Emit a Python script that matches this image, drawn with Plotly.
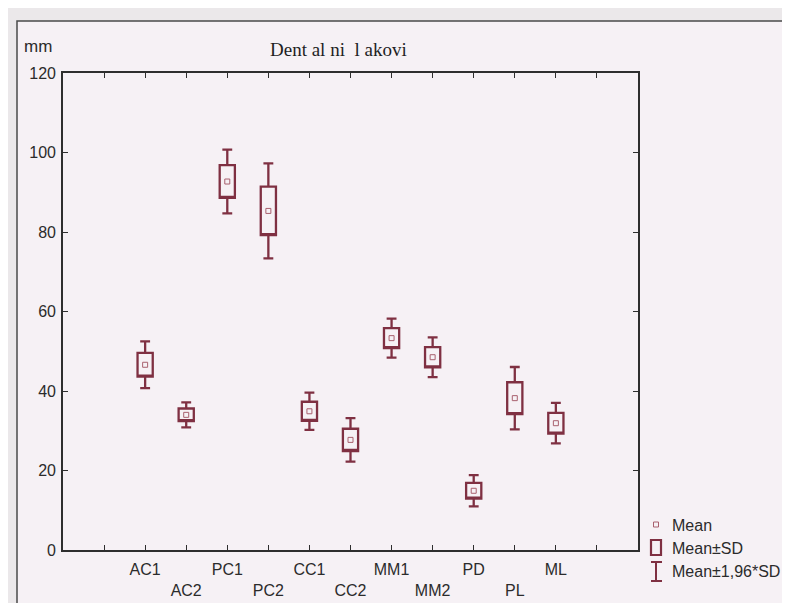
import plotly.graph_objects as go

# ---- data ----
categories = ["AC1", "AC2", "PC1", "PC2", "CC1", "CC2", "MM1", "MM2", "PD", "PL", "ML"]
means = [46.6, 34.0, 92.7, 85.3, 34.9, 27.7, 53.3, 48.5, 14.9, 38.2, 31.9]
sds = [3.0, 1.6, 4.1, 6.1, 2.4, 2.8, 2.5, 2.55, 2.0, 4.0, 2.6]
y_ticks = [0, 20, 40, 60, 80, 100, 120]
title_text = "Dent al ni  l akovi"
y_unit = "mm"
legend_labels = ["Mean", "Mean±SD", "Mean±1,96*SD"]

# ---- layout geometry ----
W, H = 790, 603
L, R, T, B = 55, 630, 65, 542   # plot area in pixels


def px(x):
    return (x - L) / (R - L)


def py(y):
    return (B - y) / (B - T)


positions = list(range(1, len(categories) + 1))
q1 = [m - s for m, s in zip(means, sds)]
q3 = [m + s for m, s in zip(means, sds)]
lo = [m - 1.96 * s for m, s in zip(means, sds)]
hi = [m + 1.96 * s for m, s in zip(means, sds)]

BOX_COLOR = "#7f3042"
MEAN_COLOR = "#a8606e"
TEXT = "#2b2b2b"
FONT = "Liberation Sans, Arial, sans-serif"

fig = go.Figure()
fig.add_trace(go.Box(
    x=positions, q1=q1, median=q1, q3=q3, lowerfence=lo, upperfence=hi,
    boxpoints=False, width=0.37, whiskerwidth=0.65,
    line=dict(color=BOX_COLOR, width=2.3),
    fillcolor="rgba(0,0,0,0)", showlegend=False, hoverinfo="skip",
))
fig.add_trace(go.Scatter(
    x=positions, y=means, mode="markers",
    marker=dict(symbol="square-open", size=5, color=MEAN_COLOR, line=dict(width=1, color=MEAN_COLOR)),
    showlegend=False,
))

# staggered tick labels
tickvals = list(range(0, len(categories) + 2))
ticktext = [""]
for i, c in enumerate(categories):
    ticktext.append(c if i % 2 == 0 else " <br>" + c)
ticktext.append("")

shapes = [
    # scanned page frame
    dict(type="rect", xref="paper", yref="paper", x0=px(9), x1=px(1100), y0=py(601), y1=py(13),
         line=dict(color="#4a4a4a", width=1.5), fillcolor="#f6f1f5", layer="below"),
    # legend icons
    dict(type="rect", xref="paper", yref="paper", x0=px(645.5), x1=px(650.5), y0=py(519), y1=py(514),
         line=dict(color=MEAN_COLOR, width=1), fillcolor="rgba(0,0,0,0)"),
    dict(type="rect", xref="paper", yref="paper", x0=px(643), x1=px(653), y0=py(547), y1=py(532),
         line=dict(color=BOX_COLOR, width=2.2), fillcolor="rgba(0,0,0,0)"),
    dict(type="line", xref="paper", yref="paper", x0=px(648), x1=px(648), y0=py(573), y1=py(554),
         line=dict(color=BOX_COLOR, width=2)),
    dict(type="line", xref="paper", yref="paper", x0=px(643), x1=px(654), y0=py(554), y1=py(554),
         line=dict(color=BOX_COLOR, width=2)),
    dict(type="line", xref="paper", yref="paper", x0=px(643), x1=px(654), y0=py(573), y1=py(573),
         line=dict(color=BOX_COLOR, width=2)),
]

annotations = [
    dict(text=y_unit, xref="paper", yref="paper", x=px(30), y=py(39), showarrow=False,
         xanchor="center", yanchor="middle",
         font=dict(family=FONT, size=17, color=TEXT)),
    dict(text=title_text, xref="paper", yref="paper", x=px(330), y=py(42), showarrow=False,
         xanchor="center", yanchor="middle",
         font=dict(family="Liberation Serif, Times New Roman, serif", size=19, color="#1f1f1f")),
]
for lab, yy in zip(legend_labels, [517, 540, 563]):
    annotations.append(dict(text=lab, xref="paper", yref="paper", x=px(662), y=py(yy),
                            xanchor="left", yanchor="middle", showarrow=False,
                            font=dict(family=FONT, size=16, color=TEXT)))

axis_common = dict(showline=True, linecolor="#2e2e2e", linewidth=1.6, mirror="ticks",
                   ticks="inside", ticklen=5, tickcolor="#2e2e2e", tickwidth=1.3,
                   showgrid=False, zeroline=False,
                   tickfont=dict(family=FONT, size=16, color=TEXT))

fig.update_layout(
    width=W, height=H,
    margin=dict(l=L, r=W - R, t=T, b=H - B),
    paper_bgcolor="#ebe8ea",
    plot_bgcolor="#f7f1f8",
    showlegend=False,
    shapes=shapes,
    annotations=annotations,
    xaxis=dict(range=[-1, len(categories) + 2], tickmode="array", tickvals=tickvals,
               ticktext=ticktext, ticklabelstandoff=4, **axis_common),
    yaxis=dict(range=[0, 120], tickmode="array", tickvals=y_ticks, ticklabelstandoff=2,
               **axis_common),
)

fig.write_html("out.html")
